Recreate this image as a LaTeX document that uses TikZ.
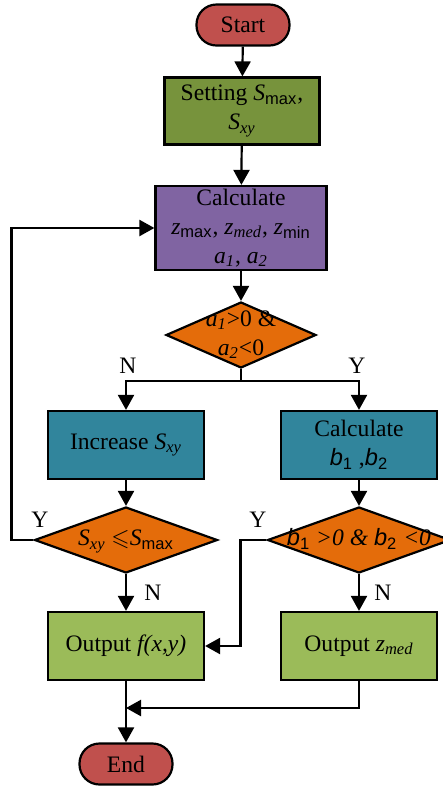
\documentclass[tikz,border=0pt]{standalone}
\usepackage{fontspec}
\usepackage{amssymb}
\setmainfont{Liberation Serif}
\newfontfamily\arialfont{Liberation Sans}
\usetikzlibrary{shapes.geometric,arrows.meta}
\definecolor{termred}{HTML}{C0504D}
\definecolor{setgreen}{HTML}{77933C}
\definecolor{calcpurple}{HTML}{8064A2}
\definecolor{decorange}{HTML}{E46C0A}
\definecolor{stepteal}{HTML}{31859C}
\definecolor{outgreen}{HTML}{9BBB59}
\newcommand{\subsf}[1]{\textsubscript{\arialfont #1}}
\newcommand{\subit}[1]{\textsubscript{\itshape #1}}
\newcommand{\sfb}{{\arialfont\itshape b}}
\newcommand{\dtext}[1]{\smash{\makebox[0pt]{\raisebox{-0.25em}{\begin{tabular}[c]{@{}c@{}}#1\end{tabular}}}}}
\tikzset{
  box/.style={draw=black, line width=1.1pt, minimum width=78pt, minimum height=34pt, align=center, inner sep=0.5pt},
  term/.style={draw=black, line width=1.1pt, fill=termred, rounded corners=10pt, minimum width=46.5pt, minimum height=20.5pt},
  dia/.style={draw=black, line width=1.1pt, diamond, fill=decorange, minimum height=33pt, inner sep=0pt},
  arr/.style={line width=1.1pt, -{Triangle[length=7.5pt,width=8pt]}}
}

\begin{document}
\begin{tikzpicture}[x=0.5pt, y=-0.5pt, every node/.style={font=\fontsize{11.8}{14.5}\selectfont}]
	%%%%% START %%%%%
	\fill[white] (0,0) rectangle (443,789);
	\useasboundingbox (0,0) rectangle (443,789);

	\node[term] (start) at (243,25) {Start};
	\node[box, fill=setgreen, minimum width=77.5pt, minimum height=33.5pt] (set) at (242,111) {Setting \textit{S}\subsf{max},\\ \textit{S}\subit{xy}};
	\node[box, fill=calcpurple, minimum width=85.5pt, minimum height=42pt] (calc) at (241,228) {Calculate\\ \textit{z}\subsf{max}, \textit{z}\subit{med}, \textit{z}\subsf{min}\\ \textit{a}\subit{1}, \textit{a}\subit{2}};
	\node[dia, minimum width=75pt] (d1) at (241,335) {\dtext{\textit{a}\subit{1}>0 \&\\ \textit{a}\subit{2}<0}};

	\node[box, fill=stepteal] (incr) at (126,445) {Increase \textit{S}\subit{xy}};
	\node[box, fill=stepteal] (calcb) at (359,445) {Calculate\\ \sfb\subsf{1} ,\sfb\subsf{2}};

	\node[dia, minimum width=91.5pt] (d2) at (126,540) {\dtext{\textit{S}\subit{xy} $\leqslant$\textit{S}\subsf{max}}};
	\node[dia, minimum width=91.5pt] (d3) at (359,540) {\dtext{\sfb\subsf{1} \textit{>0 \& }\sfb\subsf{2} \textit{<0}}};

	\node[box, fill=outgreen] (outf) at (126,646) {Output \textit{f(x,y)}};
	\node[box, fill=outgreen] (outz) at (359,646) {Output \textit{z}\subit{med}};
	\node[term] (endn) at (126,764) {End};
	\coordinate (merge) at (126,708);

	% labels
	\node (n1) at (128,366) {N};
	\node (y1) at (357,366) {Y};
	\node (y2) at (40,520) {Y};
	\node (n2) at (153,593) {N};
	\node (y3) at (258,520) {Y};
	\node (n3) at (383,593) {N};

	% connectors
	\draw[arr] (start) -- (set);
	\draw[arr] (set) -- (calc);
	\draw[arr] (calc) -- (d1);
	\draw[arr] (d1.south) -- ++(0,12) -| (incr.north);
	\draw[arr] (d1.south) -- ++(0,12) -| (calcb.north);
	\draw[arr] (incr) -- (d2);
	\draw[arr] (calcb) -- (d3);
	\draw[arr] (d2) -- (outf);
	\draw[arr] (d3) -- (outz);
	\draw[arr] (d2.west) -- ++(-22,0) |- (calc.west);
	\draw[arr] (d3.west) -- ++(-26,0) |- (outf.east);
	\draw[arr] (outz.south) |- (merge);
	\draw[arr] (outf.south) -- (endn.north);
	%%%%% END %%%%%
\end{tikzpicture}
\end{document}
